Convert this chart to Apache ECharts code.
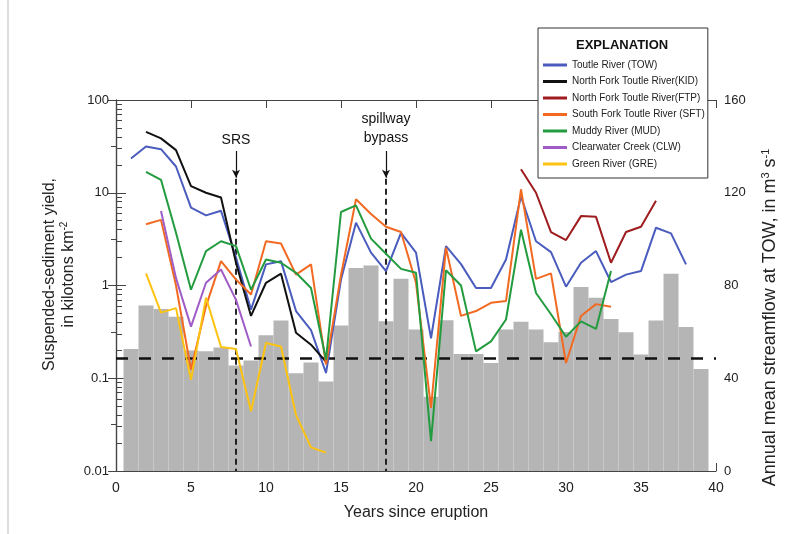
<!DOCTYPE html>
<html>
<head>
<meta charset="utf-8">
<script src="https://cdn.jsdelivr.net/npm/echarts@6.0.0/dist/echarts.min.js"></script>
<style>
  html, body { margin: 0; padding: 0; background: #fff; }
  #main { width: 802px; height: 534px; }
</style>
</head>
<body>
<div id="main"></div>
<script>
// annual mean streamflow at TOW (m3/s), right axis, grey bars
var flowYears = [1, 2, 3, 4, 5, 6, 7, 8, 9, 10, 11, 12, 13, 14, 15, 16, 17, 18, 19, 20,
  21, 22, 23, 24, 25, 26, 27, 28, 29, 30, 31, 32, 33, 34, 35, 36, 37, 38, 39];
var flowValues = [52.6, 71.4, 69.9, 66.5, 52, 51.6, 53.3, 45.5, 47.7, 58.5, 64.9, 42.2, 46.8, 38.6, 62.7, 87.6, 88.6, 64.6, 82.9, 61,
  32, 65, 50.5, 50.5, 46.6, 61, 64.4, 61, 55.5, 60, 79.3, 74.7, 65.6, 59.8, 50.2, 64.9, 85.1, 62.1, 44];
var meanFlow = 48.6;

// suspended-sediment yield (kilotons/km2), left log axis
var towYears = [1, 2, 3, 4, 5, 6, 7, 8, 9, 10, 11, 12, 13, 14, 15, 16, 17, 18, 19, 20,
  21, 22, 23, 24, 25, 26, 27, 28, 29, 30, 31, 32, 33, 34, 35, 36, 37, 38];
var towValues = [23.4, 31.6, 29.5, 19.2, 6.9, 5.7, 6.4, 2.0, 0.55, 1.69, 1.83, 0.53, 0.33, 0.114, 1.16, 4.76, 2.26, 1.43, 3.7, 2.26,
  0.27, 2.66, 1.7, 0.94, 0.94, 1.91, 9.1, 3.0, 2.29, 0.97, 1.76, 2.35, 1.09, 1.31, 1.43, 4.2, 3.65, 1.69];

var kidYears = [2, 3, 4, 5, 6, 7, 8, 9, 10, 11, 12, 13, 14];
var kidValues = [45.4, 38.6, 28.8, 11.8, 10.0, 8.9, 1.76, 0.47, 1.07, 1.34, 0.31, 0.23, 0.15];

var ftpYears = [27, 28, 29, 30, 31, 32, 33, 34, 35, 36];
var ftpValues = [17.9, 10.0, 3.77, 3.09, 5.6, 5.5, 1.76, 3.77, 4.3, 8.2];

var sftYears = [2, 3, 4, 5, 6, 7, 8, 9, 10, 11, 12, 13, 14, 15, 16, 17, 18, 19, 20, 21,
  22, 23, 24, 25, 26, 27, 28, 29, 30, 31, 32, 33];
var sftValues = [4.57, 5.1, 1.0, 0.124, 0.6, 1.83, 1.16, 0.8, 3.0, 2.84, 1.31, 1.69, 0.14, 1.3, 8.5, 5.9, 4.3, 3.77, 1.07, 0.048,
  2.56, 0.47, 0.53, 0.65, 0.68, 10.9, 1.18, 1.35, 0.146, 0.47, 0.63, 0.59];

var mudYears = [2, 3, 4, 5, 6, 7, 8, 9, 10, 11, 12, 13, 14, 15, 16, 17, 18, 19, 20, 21,
  22, 23, 24, 25, 26, 27, 28, 29, 30, 31, 32, 33];
var mudValues = [16.8, 13.8, 3.7, 0.9, 2.35, 3.0, 2.66, 0.9, 1.91, 1.76, 1.37, 0.94, 0.159, 6.2, 7.3, 3.2, 2.2, 1.51, 1.37, 0.021,
  1.46, 1.0, 0.195, 0.25, 0.43, 4.0, 0.83, 0.49, 0.28, 0.41, 0.34, 1.43];

var clwYears = [3, 4, 5, 6, 7, 8, 9];
var clwValues = [6.36, 1.2, 0.36, 1.07, 1.49, 0.7, 0.22];

var greYears = [2, 3, 4, 5, 6, 7, 8, 9, 10, 11, 12, 13, 14];
var greValues = [1.35, 0.51, 0.57, 0.096, 0.74, 0.217, 0.207, 0.044, 0.24, 0.22, 0.040, 0.018, 0.0158];

var logMinor = [0.02, 0.03, 0.04, 0.05, 0.06, 0.07, 0.08, 0.09,
  0.2, 0.3, 0.4, 0.5, 0.6, 0.7, 0.8, 0.9,
  2, 3, 4, 5, 6, 7, 8, 9,
  20, 30, 40, 50, 60, 70, 80, 90];

var srsYear = 8;
var spillwayYear = 18;

function pairs(xs, ys) {
  var out = [];
  for (var i = 0; i < xs.length; i++) out.push([xs[i], ys[i]]);
  return out;
}

var myChart = echarts.init(document.getElementById('main'));
var font = 'Liberation Sans, Arial, sans-serif';

function river(name, color, xs, ys) {
  return {
    name: name,
    type: 'line',
    xAxisIndex: 0,
    yAxisIndex: 0,
    symbol: 'none',
    z: 3,
    lineStyle: { color: color, width: 2 },
    itemStyle: { color: color },
    data: pairs(xs, ys)
  };
}

var option = {
  animation: false,
  backgroundColor: '#fff',
  textStyle: { fontFamily: font },
  grid: { left: 116, right: 86, top: 100, bottom: 63 },
  graphic: [{
    type: 'line',
    shape: { x1: 8, y1: 0, x2: 8, y2: 534 },
    style: { stroke: '#bbb', lineWidth: 1 }
  }],
  title: {
    text: 'EXPLANATION',
    left: 576,
    top: 39,
    padding: 0,
    textStyle: { fontSize: 13, fontWeight: 'bold', color: '#111', fontFamily: font }
  },
  legend: {
    orient: 'vertical',
    left: 538,
    top: 28,
    padding: [32, 3, 9, 5],
    itemWidth: 24,
    itemHeight: 3,
    itemGap: 6.5,
    icon: 'rect',
    selectedMode: false,
    backgroundColor: '#fff',
    borderColor: '#333',
    borderWidth: 1,
    textStyle: { fontSize: 10, color: '#222', fontFamily: font },
    data: ['Toutle River (TOW)', 'North Fork Toutle River(KID)', 'North Fork Toutle River(FTP)',
      'South Fork Toutle River (SFT)', 'Muddy River (MUD)', 'Clearwater Creek (CLW)', 'Green River (GRE)']
  },
  xAxis: [{
    type: 'value',
    min: 0, max: 40, interval: 5,
    name: 'Years since eruption',
    nameLocation: 'middle',
    nameGap: 34,
    nameMoveOverlap: false,
    nameTextStyle: { fontSize: 16, color: '#222' },
    axisLine: { lineStyle: { color: '#444', width: 1.2 } },
    axisTick: { inside: true, length: 8, lineStyle: { color: '#444' } },
    axisLabel: { fontSize: 14, color: '#222', margin: 10 },
    splitLine: { show: false }
  }, {
    type: 'value',
    position: 'top',
    min: 0, max: 40, interval: 5,
    axisLine: { lineStyle: { color: '#444', width: 1.2 } },
    axisTick: { inside: true, length: 8, lineStyle: { color: '#444' } },
    axisLabel: { show: false },
    splitLine: { show: false }
  }],
  yAxis: [{
    type: 'log',
    logBase: 10,
    min: 0.01, max: 100,
    position: 'left',
    name: 'Suspended-sediment yield,\nin kilotons km{sup|-2}',
    nameLocation: 'middle',
    nameRotate: 90,
    nameGap: 38,
    nameMoveOverlap: false,
    nameTextStyle: {
      fontSize: 16, color: '#222', lineHeight: 19, padding: [0, 0, 0, 22],
      rich: { sup: { fontSize: 10, lineHeight: 10, verticalAlign: 'top', color: '#222' } }
    },
    axisLine: { lineStyle: { color: '#444', width: 1.2 } },
    axisTick: { inside: true, length: 10, lineStyle: { color: '#444' } },
    axisLabel: { fontSize: 13, color: '#222', margin: 7 },
    splitLine: { show: false }
  }, {
    type: 'value',
    min: 0, max: 160, interval: 40,
    position: 'right',
    name: 'Annual mean streamflow at TOW, in m{sup|3} s{sup|-1}',
    nameLocation: 'middle',
    nameRotate: 90,
    nameGap: 44,
    nameMoveOverlap: false,
    nameTextStyle: {
      fontSize: 18, color: '#222', lineHeight: 20, padding: [0, 64, 0, 0],
      rich: { sup: { fontSize: 11, lineHeight: 11, verticalAlign: 'top', color: '#222' } }
    },
    axisLine: { lineStyle: { color: '#444', width: 1.2 } },
    axisTick: { inside: true, length: 8, lineStyle: { color: '#444' } },
    minorTick: { show: true, splitNumber: 2, length: 5, lineStyle: { color: '#444' } },
    axisLabel: { fontSize: 13, color: '#222', margin: 8 },
    splitLine: { show: false }
  }, {
    type: 'log',
    logBase: 10,
    min: 0.01, max: 100,
    position: 'left',
    axisLine: { show: false },
    axisTick: { inside: true, length: 6, customValues: logMinor, lineStyle: { color: '#444' } },
    axisLabel: { show: false },
    splitLine: { show: false }
  }],
  series: [{
    name: 'flow',
    type: 'bar',
    xAxisIndex: 0,
    yAxisIndex: 1,
    barWidth: 15,
    z: 1,
    itemStyle: { color: '#b5b5b5' },
    data: pairs(flowYears, flowValues),
    markLine: {
      silent: true,
      symbol: 'none',
      z: 2,
      label: { show: false },
      data: [
        [{ yAxis: meanFlow, x: 116, lineStyle: { color: '#111', width: 2.5, type: [12, 11] } },
          { yAxis: meanFlow, x: 716 }],
        [{ coord: [srsYear, 126], lineStyle: { color: '#111', width: 1.8, type: [6, 4] } },
          { coord: [srsYear, 0] }],
        [{ coord: [spillwayYear, 126], lineStyle: { color: '#111', width: 1.8, type: [6, 4] } },
          { coord: [spillwayYear, 0] }],
        [{ coord: [srsYear, 138], symbol: 'none', lineStyle: { color: '#111', width: 1.2, type: 'solid' },
           label: { show: true, position: 'start', formatter: 'SRS', fontSize: 14, color: '#111', distance: 4 } },
          { coord: [srsYear, 126.5], symbol: 'arrow', symbolSize: [6, 8] }],
        [{ coord: [spillwayYear, 138], symbol: 'none', lineStyle: { color: '#111', width: 1.2, type: 'solid' },
           label: { show: true, position: 'start', formatter: 'spillway\nbypass', fontSize: 14, lineHeight: 19, color: '#111', distance: 3 } },
          { coord: [spillwayYear, 126.5], symbol: 'arrow', symbolSize: [6, 8] }]
      ]
    }
  },
    river('Toutle River (TOW)', '#4a5cbd', towYears, towValues),
    river('North Fork Toutle River(KID)', '#111111', kidYears, kidValues),
    river('North Fork Toutle River(FTP)', '#9e1b1e', ftpYears, ftpValues),
    river('South Fork Toutle River (SFT)', '#f26a22', sftYears, sftValues),
    river('Muddy River (MUD)', '#239b3f', mudYears, mudValues),
    river('Clearwater Creek (CLW)', '#a05cc6', clwYears, clwValues),
    river('Green River (GRE)', '#fdc311', greYears, greValues)
  ]
};

myChart.setOption(option);
</script>
</body>
</html>
